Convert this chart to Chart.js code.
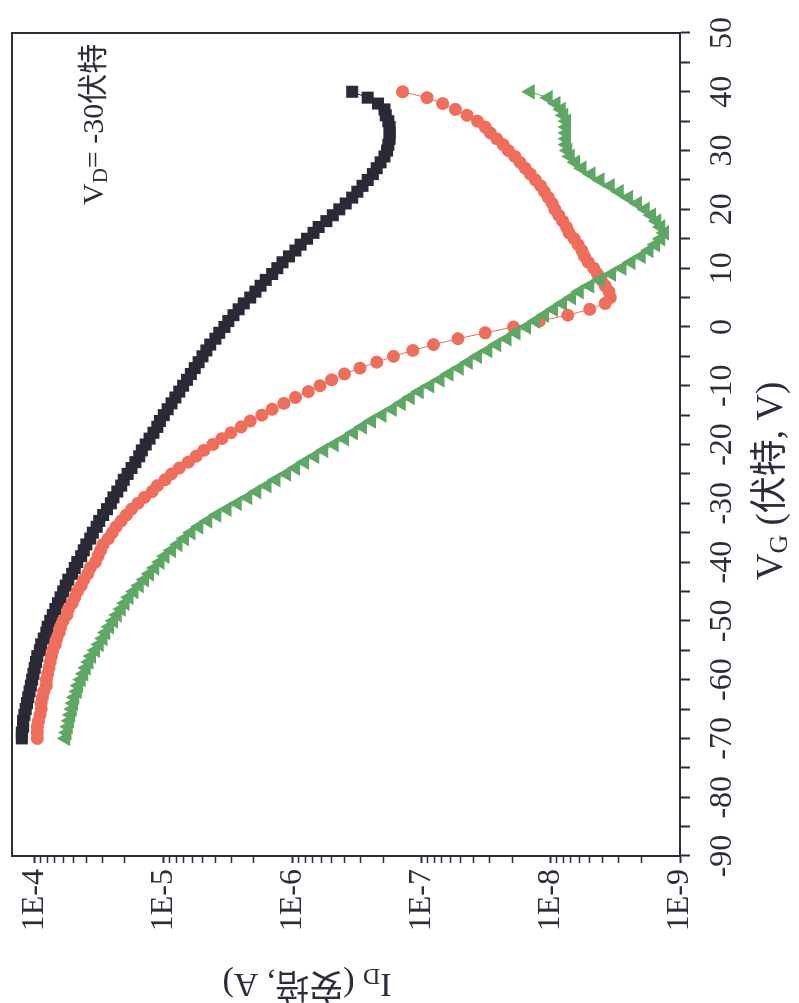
<!DOCTYPE html>
<html>
<head>
<meta charset="utf-8">
<script src="https://cdn.jsdelivr.net/npm/chart.js@4.4.1/dist/chart.umd.min.js"></script>
<style>
  html, body { margin: 0; padding: 0; background: #fff; overflow: hidden; }
  /* the figure is printed turned a quarter turn counter-clockwise */
  #wrap { position: absolute; left: 0; top: 0; width: 1003px; height: 799px;
          transform-origin: 0 0; transform: translateY(1003px) rotate(-90deg); }
</style>
</head>
<body>
<div id="wrap"><canvas id="transferChart" width="1003" height="799"></canvas></div>
<script>
const gateVoltage = [
  -70, -69, -68, -67, -66, -65, -64, -63, -62, -61,
  -60, -59, -58, -57, -56, -55, -54, -53, -52, -51,
  -50, -49, -48, -47, -46, -45, -44, -43, -42, -41,
  -40, -39, -38, -37, -36, -35, -34, -33, -32, -31,
  -30, -29, -28, -27, -26, -25, -24, -23, -22, -21,
  -20, -19, -18, -17, -16, -15, -14, -13, -12, -11,
  -10, -9, -8, -7, -6, -5, -4, -3, -2, -1,
  0, 1, 2, 3, 4, 5, 6, 7, 8, 9,
  10, 11, 12, 13, 14, 15, 16, 17, 18, 19,
  20, 21, 22, 23, 24, 25, 26, 27, 28, 29,
  30, 31, 32, 33, 34, 35, 36, 37, 38, 39, 40,
];

// log10 of drain current (A)
const blackLogId = [
  -3.90, -3.90, -3.91, -3.91, -3.92, -3.93, -3.94, -3.95, -3.96, -3.97,
  -3.98, -3.99, -4.00, -4.01, -4.02, -4.04, -4.05, -4.07, -4.09, -4.10,
  -4.12, -4.14, -4.16, -4.18, -4.20, -4.22, -4.24, -4.26, -4.29, -4.31,
  -4.33, -4.36, -4.38, -4.40, -4.43, -4.45, -4.48, -4.50, -4.53, -4.56,
  -4.59, -4.61, -4.64, -4.67, -4.69, -4.72, -4.75, -4.78, -4.81, -4.83,
  -4.86, -4.89, -4.92, -4.95, -4.97, -5.00, -5.03, -5.06, -5.09, -5.12,
  -5.15, -5.18, -5.21, -5.24, -5.27, -5.30, -5.33, -5.36, -5.40, -5.43,
  -5.47, -5.50, -5.54, -5.58, -5.62, -5.67, -5.71, -5.75, -5.79, -5.84,
  -5.88, -5.92, -5.97, -6.02, -6.06, -6.11, -6.16, -6.20, -6.26, -6.31,
  -6.36, -6.41, -6.46, -6.50, -6.54, -6.58, -6.62, -6.65, -6.68, -6.71,
  -6.73, -6.74, -6.75, -6.75, -6.75, -6.74, -6.72, -6.71, -6.66, -6.58, -6.46,
];
const redLogId = [
  -4.02, -4.02, -4.02, -4.03, -4.04, -4.05, -4.05, -4.06, -4.07, -4.09,
  -4.09, -4.10, -4.11, -4.12, -4.13, -4.14, -4.16, -4.17, -4.19, -4.20,
  -4.22, -4.25, -4.26, -4.29, -4.31, -4.33, -4.36, -4.38, -4.41, -4.43,
  -4.47, -4.49, -4.51, -4.53, -4.57, -4.60, -4.63, -4.67, -4.71, -4.75,
  -4.80, -4.85, -4.91, -4.95, -5.01, -5.06, -5.12, -5.19, -5.25, -5.31,
  -5.38, -5.45, -5.52, -5.60, -5.67, -5.76, -5.84, -5.93, -6.02, -6.12,
  -6.21, -6.30, -6.40, -6.52, -6.65, -6.78, -6.93, -7.09, -7.28, -7.49,
  -7.71, -7.91, -8.13, -8.30, -8.42, -8.46, -8.45, -8.42, -8.39, -8.36,
  -8.33, -8.29, -8.26, -8.24, -8.21, -8.18, -8.14, -8.12, -8.09, -8.06,
  -8.03, -8.01, -7.98, -7.95, -7.92, -7.88, -7.84, -7.80, -7.76, -7.72,
  -7.67, -7.63, -7.58, -7.53, -7.49, -7.43, -7.35, -7.26, -7.16, -7.04, -6.85,
];
const greenLogId = [
  -4.24, -4.25, -4.26, -4.27, -4.28, -4.29, -4.30, -4.31, -4.33, -4.34,
  -4.36, -4.38, -4.40, -4.42, -4.44, -4.47, -4.50, -4.53, -4.55, -4.58,
  -4.61, -4.64, -4.67, -4.70, -4.73, -4.77, -4.81, -4.85, -4.89, -4.93,
  -4.97, -5.01, -5.06, -5.11, -5.16, -5.21, -5.27, -5.34, -5.41, -5.49,
  -5.57, -5.65, -5.72, -5.80, -5.87, -5.95, -6.02, -6.09, -6.17, -6.24,
  -6.32, -6.40, -6.47, -6.54, -6.61, -6.69, -6.77, -6.84, -6.91, -6.98,
  -7.06, -7.14, -7.21, -7.29, -7.36, -7.43, -7.51, -7.58, -7.66, -7.73,
  -7.81, -7.88, -7.95, -8.02, -8.09, -8.16, -8.22, -8.30, -8.38, -8.47,
  -8.55, -8.62, -8.70, -8.76, -8.81, -8.85, -8.88, -8.85, -8.82, -8.78,
  -8.73, -8.67, -8.60, -8.53, -8.46, -8.38, -8.31, -8.24, -8.19, -8.15,
  -8.13, -8.12, -8.12, -8.12, -8.12, -8.12, -8.10, -8.08, -8.04, -7.98, -7.84,
];

const vgMin = -90;
const vgMax = 50;
const idMin = 1e-9;
const idMax = 1.5e-4;
const idDecades = [-9, -8, -7, -6, -5, -4];

const INK = "#2c2c3a";
const SERIF = '"Liberation Serif", "Noto Sans CJK SC", serif';

function toPoints(logValues) {
  return gateVoltage.map((vg, i) => ({ x: vg, y: Math.pow(10, logValues[i]) }));
}

function isDecade(value) {
  const l = Math.log10(value);
  return Math.abs(l - Math.round(l)) < 1e-6;
}

// draws runs like [["V"], ["G", true], [" (伏特, V)"]] with subscripts
function drawRich(ctx, parts, x, y, size, align) {
  const widths = parts.map(([text, sub]) => {
    ctx.font = `${sub ? size * 0.7 : size}px ${SERIF}`;
    return ctx.measureText(text).width;
  });
  const total = widths.reduce((a, b) => a + b, 0);
  let cx = align === "center" ? x - total / 2 : x;
  ctx.textAlign = "left";
  ctx.textBaseline = "middle";
  parts.forEach(([text, sub], i) => {
    ctx.font = `${sub ? size * 0.7 : size}px ${SERIF}`;
    ctx.fillText(text, cx, sub ? y + size * 0.22 : y);
    cx += widths[i];
  });
}

const frameAndLabels = {
  id: "frameAndLabels",
  afterDraw(chart) {
    const { ctx, chartArea } = chart;
    ctx.save();
    ctx.strokeStyle = INK;
    ctx.lineWidth = 2;
    ctx.strokeRect(chartArea.left, chartArea.top, chartArea.right - chartArea.left, chartArea.bottom - chartArea.top);

    ctx.fillStyle = INK;
    drawRich(ctx, [["V"], ["G", true], [" (伏特, V)"]], 522, 772, 37, "center");
    drawRich(ctx, [["V"], ["D", true], ["= -30伏特"]], 798, 95, 30, "left");

    ctx.translate(20, 307);
    ctx.rotate(-Math.PI / 2);
    drawRich(ctx, [["I"], ["D", true], [" (安培, A)"]], 0, 0, 34, "center");
    ctx.restore();
  },
};

new Chart(document.getElementById("transferChart"), {
  type: "scatter",
  data: {
    datasets: [
      {
        label: "green",
        data: toPoints(greenLogId),
        showLine: true,
        borderColor: "#5ea765",
        borderWidth: 1,
        backgroundColor: "#5ea765",
        pointStyle: "triangle",
        pointRadius: 9,
        pointBorderWidth: 0,
      },
      {
        label: "red",
        data: toPoints(redLogId),
        showLine: true,
        borderColor: "#ee6e5b",
        borderWidth: 1,
        backgroundColor: "#ee6e5b",
        pointStyle: "circle",
        pointRadius: 6.5,
        pointBorderWidth: 0,
      },
      {
        label: "black",
        data: toPoints(blackLogId),
        showLine: true,
        borderColor: "#2a2935",
        borderWidth: 1,
        backgroundColor: "#2a2935",
        pointStyle: "rect",
        pointRadius: 8.5,
        pointBorderWidth: 0,
      },
    ],
  },
  options: {
    responsive: false,
    animation: false,
    layout: { padding: { top: 12, right: 33, left: 0, bottom: 0 } },
    plugins: { legend: { display: false }, tooltip: { enabled: false } },
    scales: {
      x: {
        type: "linear",
        min: vgMin,
        max: vgMax,
        border: { color: INK, width: 2 },
        grid: { drawOnChartArea: false, color: INK, tickLength: 10, tickWidth: 2 },
        ticks: {
          stepSize: 5,
          autoSkip: false,
          maxRotation: 0,
          minRotation: 0,
          padding: 13,
          color: INK,
          font: { family: SERIF, size: 32 },
          callback: (v) => (v % 10 === 0 ? String(v) : ""),
        },
        afterFit: (scale) => {
          scale.height = 119;
          scale.paddingLeft = 0;
          scale.paddingRight = 0;
        },
      },
      y: {
        type: "logarithmic",
        min: idMin,
        max: idMax,
        border: { color: INK, width: 2 },
        grid: {
          drawOnChartArea: false,
          color: INK,
          tickLength: 7,
          tickWidth: (c) => (c.tick && isDecade(c.tick.value) ? 2 : 1.5),
        },
        afterBuildTicks: (scale) => {
          const ticks = [];
          idDecades.forEach((e) => {
            for (let m = 1; m <= 9; m++) {
              const v = m * Math.pow(10, e);
              if (v <= idMax) ticks.push({ value: v, major: m === 1 });
            }
          });
          scale.ticks = ticks;
        },
        ticks: {
          autoSkip: false,
          padding: 6,
          color: INK,
          font: { family: SERIF, size: 32 },
          callback: (v) => (isDecade(v) ? "1E" + Math.round(Math.log10(v)) : ""),
        },
        afterFit: (scale) => {
          scale.width = 147;
          scale.paddingTop = 0;
          scale.paddingBottom = 0;
        },
      },
    },
  },
  plugins: [frameAndLabels],
});
</script>
</body>
</html>
